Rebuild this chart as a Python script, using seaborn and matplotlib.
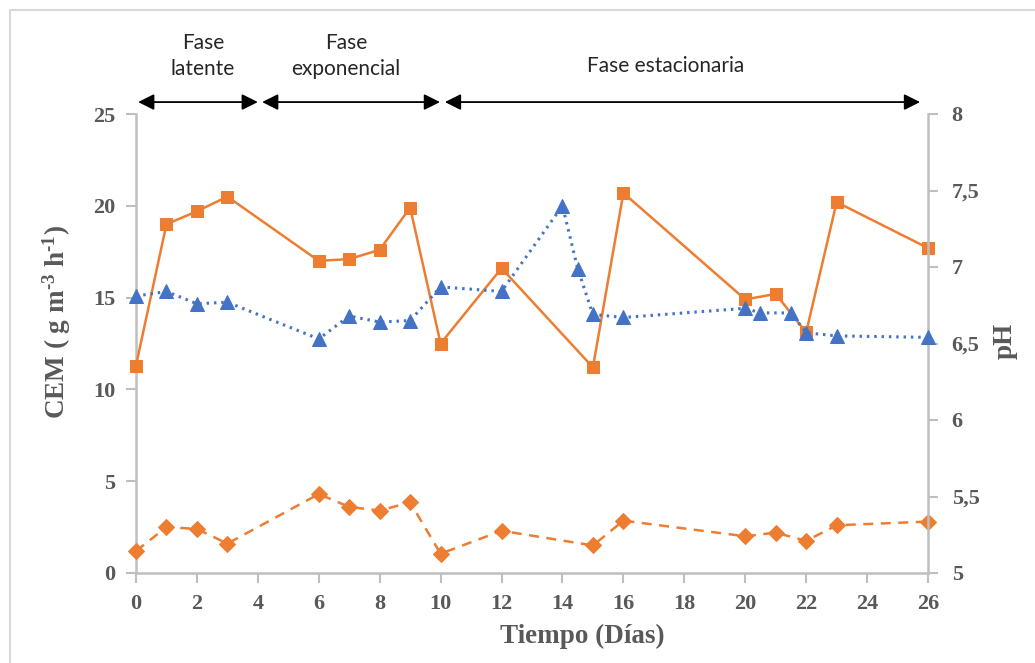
import matplotlib
matplotlib.use("Agg")
import matplotlib.pyplot as plt
import matplotlib.patches as mpatches
import matplotlib.ticker as mticker
import seaborn as sns
import numpy as np
import pandas as pd

# ---------------- data ----------------
dias_cem = [0, 1, 2, 3, 6, 7, 8, 9, 10, 12, 15, 16, 20, 21, 22, 23, 26]
cem_cuadrados = [11.3, 19.0, 19.7, 20.5, 17.0, 17.1, 17.6, 19.9, 12.5, 16.6, 11.2, 20.7, 14.9, 15.2, 13.1, 20.2, 17.7]
cem_rombos = [1.2, 2.5, 2.4, 1.6, 4.3, 3.6, 3.4, 3.85, 1.05, 2.3, 1.5, 2.85, 2.0, 2.2, 1.75, 2.6, 2.8]

dias_ph = [0, 1, 2, 3, 6, 7, 8, 9, 10, 12, 14, 14.5, 15, 16, 20, 20.5, 21.5, 22, 23, 26]
ph_valores = [6.81, 6.84, 6.76, 6.77, 6.53, 6.68, 6.64, 6.65, 6.87, 6.84, 7.40, 6.99, 6.69, 6.67,
              6.73, 6.70, 6.70, 6.57, 6.55, 6.54]

x_ticks = list(range(0, 27, 2))
y_left_ticks = [0, 5, 10, 15, 20, 25]
y_right_ticks = [5, 5.5, 6, 6.5, 7, 7.5, 8]

fases = ["Fase\nlatente", "Fase\nexponencial", "Fase estacionaria"]
fase_limites = [(0.07, 4.0), (4.14, 9.98), (10.14, 25.74)]
fase_centros = [2.2, 6.9, 17.4]

ORANGE = "#ED7D31"
BLUE = "#4472C4"
GREY = "#BFBFBF"
TXT = "#595959"

sns.set_theme(style="white")
plt.rcParams["font.family"] = ["Liberation Serif", "DejaVu Serif"]
plt.rcParams["mathtext.fontset"] = "custom"
plt.rcParams["mathtext.rm"] = "Liberation Serif:bold"
plt.rcParams["mathtext.bf"] = "Liberation Serif:bold"
plt.rcParams["mathtext.it"] = "Liberation Serif:bold"

fig = plt.figure(figsize=(10.35, 6.63), dpi=100)
ax = fig.add_axes([136 / 1035, 1 - 573 / 663, (928 - 136) / 1035, (573 - 114) / 663])
ax2 = ax.twinx()

df1 = pd.DataFrame({"dia": dias_cem, "cuad": cem_cuadrados, "romb": cem_rombos})
df2 = pd.DataFrame({"dia": dias_ph, "ph": ph_valores})

sns.lineplot(data=df1, x="dia", y="cuad", ax=ax, color=ORANGE, marker="s", markersize=9,
             markeredgecolor=ORANGE, linewidth=1.8, clip_on=False, zorder=3)
sns.lineplot(data=df1, x="dia", y="romb", ax=ax, color=ORANGE, marker="D", markersize=8,
             markeredgecolor=ORANGE, linewidth=1.8, linestyle=(0, (4, 3)), clip_on=False, zorder=3)
sns.lineplot(data=df2, x="dia", y="ph", ax=ax2, color=BLUE, marker="^", markersize=10.5,
             markeredgecolor=BLUE, linewidth=2.2, linestyle=(0, (0.8, 1.6)), clip_on=False, zorder=3)

ax.set_xlim(0, 26)
ax.set_ylim(0, 25)
ax2.set_ylim(5, 8)
ax.set_xticks(x_ticks)
ax.set_yticks(y_left_ticks)
ax2.set_yticks(y_right_ticks)
ax2.yaxis.set_major_formatter(mticker.FuncFormatter(lambda v, p: (f"{v:g}").replace(".", ",")))

for a in (ax, ax2):
    for s in a.spines.values():
        s.set_visible(False)
    a.grid(False)
    a.set_facecolor("none")
ax.spines["left"].set_visible(True)
ax.spines["bottom"].set_visible(True)
ax2.spines["right"].set_visible(True)
for s in (ax.spines["left"], ax.spines["bottom"], ax2.spines["right"]):
    s.set_color(GREY)
    s.set_linewidth(1.8)

ax.tick_params(axis="both", direction="out", length=7, width=1.5, color=GREY,
               labelsize=16, labelcolor=TXT)
ax.tick_params(axis="x", pad=8, bottom=True)
ax.tick_params(axis="y", pad=8, left=True)
ax2.tick_params(axis="y", direction="out", length=7, width=1.5, color=GREY,
                labelsize=16, labelcolor=TXT, pad=10, right=True)
for lab in ax.get_xticklabels() + ax.get_yticklabels() + ax2.get_yticklabels():
    lab.set_fontweight("bold")

ax.set_xlabel("Tiempo (Días)", fontsize=19.5, fontweight="bold", color=TXT)
ax.xaxis.label.set_va("center")
ax.xaxis.set_label_coords(0.564, -0.139)
ax.set_ylabel("CEM ( g m$^{\\text{-3}}$ h$^{\\text{-1}}$)", fontsize=19.5,
              fontweight="bold", color=TXT)
ax.yaxis.label.set_va("center")
ax.yaxis.label.set_ha("center")
ax.yaxis.set_label_coords(-0.0997, 0.547)
ax2.set_ylabel("pH", fontsize=19.5, fontweight="bold", color=TXT, rotation=90)
ax2.yaxis.label.set_va("center")
ax2.yaxis.set_label_coords((1005 - 136) / 792, (573 - 341) / 459)

# phase arrows & labels
y_arrow = 25.65
for (x0, x1) in fase_limites:
    ax.annotate("", xy=(x0, y_arrow), xytext=(x1, y_arrow), xycoords="data",
                arrowprops=dict(arrowstyle="<|-|>", color="black", lw=1.3,
                                mutation_scale=24, shrinkA=0, shrinkB=0),
                annotation_clip=False)

sans = ["Lato", "DejaVu Sans"]
ax.text(fase_centros[0], 28.16, fases[0], ha="center", va="center", fontsize=15, family=sans,
        color="#262626", linespacing=1.35, clip_on=False)
ax.text(fase_centros[1], 28.16, fases[1], ha="center", va="center", fontsize=15, family=sans,
        color="#262626", linespacing=1.35, clip_on=False)
ax.text(fase_centros[2], 27.61, fases[2], ha="center", va="center", fontsize=15, family=sans,
        color="#262626", clip_on=False)

# outer light frame
fig.patches.append(mpatches.Rectangle((10 / 1035, -0.1), 2, 1 - 10 / 663 + 0.1,
                                      transform=fig.transFigure, fill=False,
                                      edgecolor="#D9D9D9", linewidth=1.5))

fig.savefig("out.png", dpi=100)
